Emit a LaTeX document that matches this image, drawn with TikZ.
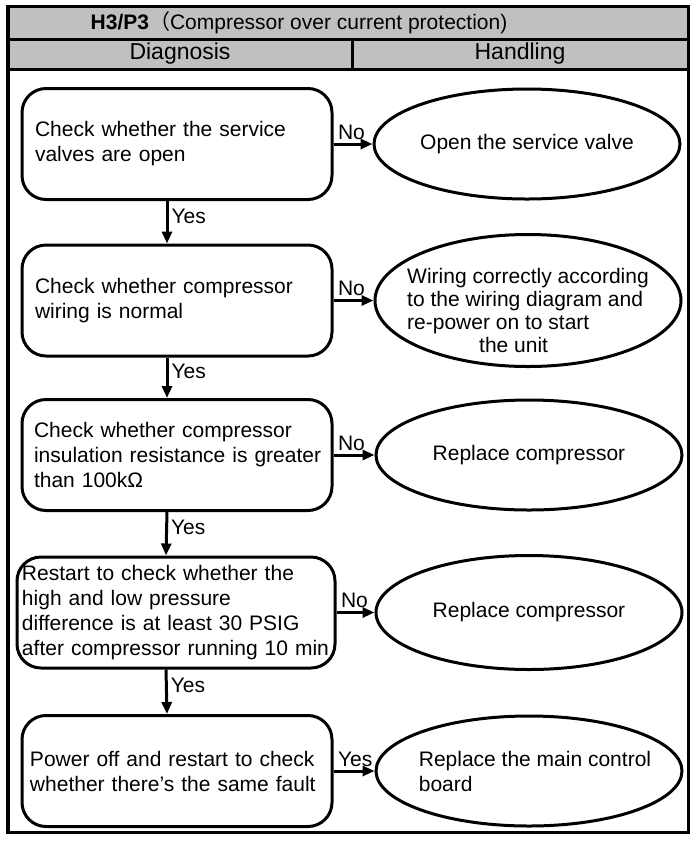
\documentclass[tikz,border=0pt]{standalone}
\usepackage{fontspec}
\setmainfont{Liberation Sans}
\newfontfamily\cjk{Noto Sans CJK SC}
\usetikzlibrary{shapes.geometric,arrows.meta}
\definecolor{entete}{RGB}{192,192,192}

\begin{document}
\begin{tikzpicture}[
    x=0.5pt, y=-0.5pt,
    font=\fontsize{10.5}{12.5}\selectfont,
    % Cases de diagnostic (coins arrondis)
    check/.style={draw, line width=1.5pt, rounded corners=12pt, align=left,
        inner ysep=0pt, minimum height=55.5pt},
    % Ellipses de traitement
    action/.style={draw, ellipse, line width=1.5pt, inner sep=0pt,
        minimum width=153pt, minimum height=55pt},
    flow/.style={draw, line width=1.5pt, -{Triangle[length=6pt, width=5pt]}},
    lab/.style={inner sep=1.5pt},
    head/.style={draw, line width=1.5pt, fill=entete},
    col/.style={font=\fontsize{11.5}{13}\selectfont}
]
\useasboundingbox (0,0) rectangle (694,843);
% Cadre et en-tete
\draw[head] (8,6) rectangle (688,39);
\draw[head] (8,39) rectangle (352,69);
\draw[head] (352,39) rectangle (688,69);
\draw[line width=1.5pt] (8,69) rectangle (688,832);
\node (titre) at (299,22.5) {\textbf{H3/P3}{\cjk （}Compressor over current protection)};
\node[col] (diag) at (180,54) {Diagnosis};
\node[col] (trait) at (520,54) {Handling};

% Diagnostic
\node[check, inner xsep=6.5pt, text width=142pt] (c1) at (177,144)
    {Check whether the service\\valves are open};
\node[check, inner xsep=6.5pt, text width=142pt] (c2) at (177,300.5)
    {Check whether compressor\\wiring is normal};
\node[check, inner xsep=4pt, text width=147pt] (c3) at (177,455)
    {\hspace*{2pt}Check whether compressor\\\hspace*{2pt}insulation resistance is greater\\\hspace*{2pt}than 100kΩ};
\node[check, inner xsep=2.5pt, text width=154pt] (c4) at (176,612.5)
    {Restart to check whether the\\high and low pressure\\difference is at least 30 PSIG\\after compressor running 10 min};
\node[check, inner xsep=4pt, text width=147pt] (c5) at (177,771)
    {Power off and restart to check\\whether there’s the same fault};

% Traitement
\node[action, label={center:{Open the service valve}}] (h1) at (527,144) {};
\node[action, minimum height=66pt, minimum width=153pt,
    label={[align=left, font=\fontsize{10.5}{11.5}\selectfont, yshift=-5pt]center:{Wiring correctly according\\to the wiring diagram and\\re-power on to start\\\hspace*{36pt}the unit}}] (h2) at (528,300.5) {};
\node[action, label={center:{Replace compressor}}] (h3) at (529,455) {};
\node[action, minimum height=57pt, label={center:{Replace compressor}}] (h4) at (529,612.5) {};
\node[action, label={[align=left, xshift=3pt]center:{Replace the main control\\board}}] (h5) at (529,771) {};

% Fleches
\foreach \a/\b in {c1/c2, c2/c3, c3/c4, c4/c5}
    \draw[flow] ([xshift=-5pt]\a.south) -- node[lab, right, pos=0.35] {Yes} ([xshift=-5pt]\b.north);
\foreach \a/\b in {c1/h1, c2/h2, c3/h3, c4/h4}
    \draw[flow] (\a.east) -- node[lab, above right, pos=0] {No} (\b.west);
\draw[flow] (c5.east) -- node[lab, above right, pos=0] {Yes} (h5.west);
\end{tikzpicture}
\end{document}
